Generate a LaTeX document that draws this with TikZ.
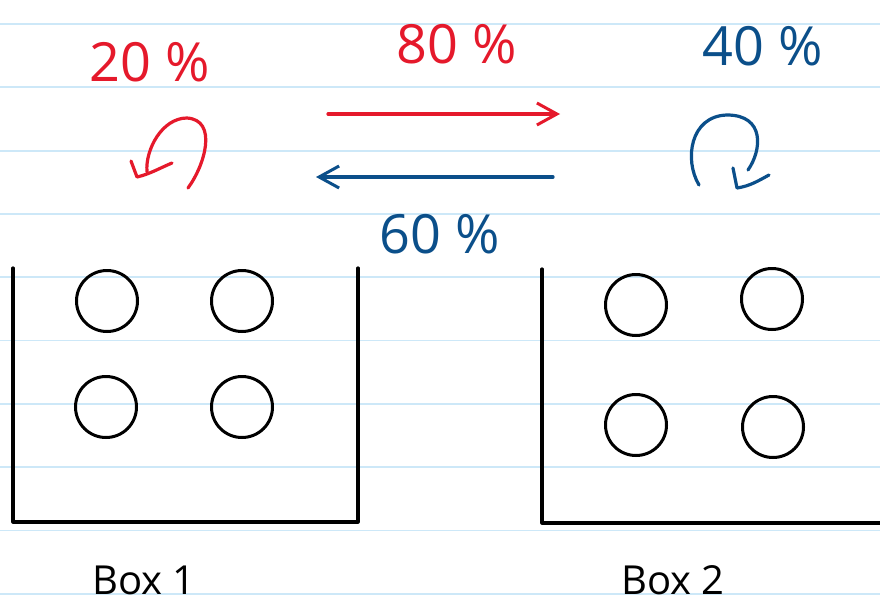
\documentclass[tikz,border=0pt]{standalone}
\usepackage{fontspec}
\setmainfont{Open Sans}
\usetikzlibrary{arrows.meta}
\definecolor{paperline}{RGB}{205,232,248}
\definecolor{inkred}{RGB}{229,25,43}
\definecolor{inkblue}{RGB}{11,79,138}
\tikzset{
  ink/.style={line width=3.2pt, line cap=round, line join=round},
  pct/.style={font=\fontsize{54}{58}\selectfont, inner sep=0pt},
  boxlabel/.style={font=\fontsize{40}{44}\selectfont, inner sep=0pt, anchor=base},
  ball/.style={circle, draw=black, line width=3pt, minimum size=61pt, inner sep=0pt},
  wall/.style={draw=black, line width=3.2pt, line cap=round, line join=round},
  barb/.style={-{Straight Barb[length=20pt,width=22pt,line width=3pt]}}
}
\begin{document}
\begin{tikzpicture}[x=1pt,y=-1pt]
\useasboundingbox (0,0) rectangle (880,605);
\fill[white] (0,0) rectangle (880,605);
% ruled paper
\foreach \k in {0,...,9}
  \draw[paperline, line width=1.8pt] (0,{24+63.3*\k}) -- (880,{24+63.3*\k});

% percentages
\node[pct, text=inkred] (p20) at (150,62) {20 \%};
\node[pct, text=inkred] (p80) at (457,44) {80 \%};
\node[pct, text=inkblue] (p40) at (763,46) {40 \%};
\node[pct, text=inkblue] (p60) at (440,234) {60 \%};

% exchange arrows
\coordinate (r1) at (328,114);
\coordinate (r2) at (560,114);
\coordinate (b1) at (553,177);
\coordinate (b2) at (316,177);
\draw[ink, inkred, barb] (r1) -- (r2);
\draw[ink, inkblue, barb] (b1) -- (b2);

% red self loop
\coordinate (rs) at (188,188);
\coordinate (re) at (147,172);
\coordinate (rt) at (137,177);
\draw[ink, inkred] (rs) .. controls (205,165) and (218,120) .. (187,118)
   .. controls (162,118) and (145,150) .. (re);
\draw[ink, inkred] (131,161) -- (rt) .. controls (150,174) and (160,168) .. (172,163);

% blue self loop
\coordinate (bs) at (699,185);
\coordinate (be) at (748,170);
\coordinate (bt) at (737,188);
\draw[ink, inkblue] (bs) .. controls (684,160) and (690,116) .. (727,115)
   .. controls (765,115) and (762,150) .. (be);
\draw[ink, inkblue] (733,168) -- (bt) .. controls (750,186) and (758,181) .. (769,175);

% box 1
\coordinate (a1) at (13,268);
\coordinate (a2) at (13,522);
\coordinate (a3) at (358,522);
\coordinate (a4) at (358,268);
\draw[wall] (a1) -- (a2) -- (a3) -- (a4);
\node[ball] (c11) at (107,301) {};
\node[ball] (c12) at (242,301) {};
\node[ball] (c13) at (106,407) {};
\node[ball] (c14) at (242,407) {};
\node[boxlabel] (l1) at (144,594) {Box 1};

% box 2
\coordinate (d1) at (542,269);
\coordinate (d2) at (542,523);
\coordinate (d3) at (885,523);
\draw[wall] (d1) -- (d2) -- (d3);
\node[ball] (c21) at (636,305) {};
\node[ball] (c22) at (772,299) {};
\node[ball] (c23) at (636,425) {};
\node[ball] (c24) at (773,427) {};
\node[boxlabel] (l2) at (673,594) {Box 2};
\end{tikzpicture}
\end{document}
